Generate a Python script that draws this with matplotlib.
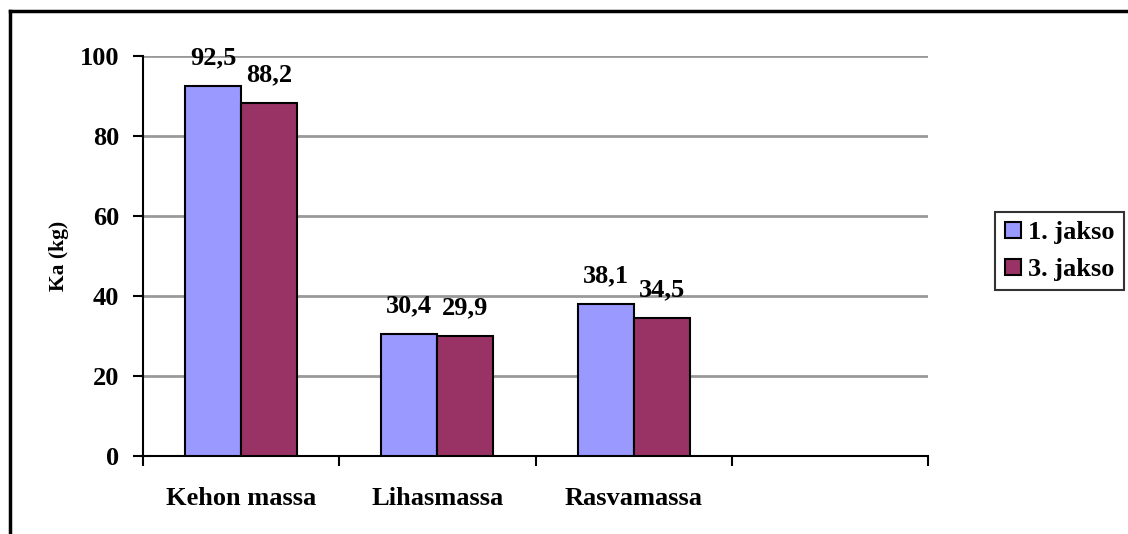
import numpy as np
import matplotlib.pyplot as plt
from matplotlib.lines import Line2D

# Dados
kategoriat = ['Kehon massa', 'Lihasmassa', 'Rasvamassa', '']
jakso1 = [92.5, 30.4, 38.1]
jakso3 = [88.2, 29.9, 34.5]
sarjat = ['1. jakso', '3. jakso']
y_ticks = [0, 20, 40, 60, 80, 100]

plt.rcParams['font.family'] = ['Liberation Serif', 'DejaVu Serif']
plt.rcParams['font.weight'] = 'bold'

fig = plt.figure(figsize=(11.28, 5.34), dpi=100)
ax = fig.add_axes([143/1128, 1-456/534, (928-143)/1128, 400/534])

x = np.arange(len(jakso1))
w = 0.285
c1 = '#9999FF'
c3 = '#993366'
b1 = ax.bar(x - w/2, jakso1, w, color=c1, edgecolor='black', linewidth=1.5, zorder=3)
b3 = ax.bar(x + w/2, jakso3, w, color=c3, edgecolor='black', linewidth=1.5, zorder=3)

# rótulos de valor acima das barras
for bars, vals in [(b1, jakso1), (b3, jakso3)]:
    for b, v in zip(bars, vals):
        ax.annotate(f'{v:.1f}'.replace('.', ','), (b.get_x() + b.get_width()/2, v),
                    xytext=(0, 12), textcoords='offset points', ha='center', va='bottom',
                    fontsize=19, fontweight='bold')

ax.set_xlim(-0.5, 3.5)
ax.set_ylim(0, 100)
ax.set_yticks(y_ticks)
ax.tick_params(axis='y', labelsize=19, length=7, width=1.5, direction='out', pad=10)
ax.yaxis.grid(True, color='#999999', linewidth=2, zorder=0)
ax.set_axisbelow(True)

# rajat kategorioiden välissä, nimet keskellä
ax.set_xticks(np.arange(-0.5, 4, 1))
ax.set_xticklabels([])
ax.set_xticks(np.arange(4), minor=True)
ax.set_xticklabels(kategoriat, minor=True, fontsize=19, fontweight='bold')
ax.tick_params(axis='x', which='major', length=7, width=1.5, direction='out')
ax.tick_params(axis='x', which='minor', length=0, pad=22)

for s in ['top', 'right']:
    ax.spines[s].set_visible(False)
for s in ['left', 'bottom']:
    ax.spines[s].set_linewidth(1.5)

ax.set_ylabel('Ka (kg)', fontsize=15.5, fontweight='bold', labelpad=8)

handles = [Line2D([], [], marker='s', linestyle='none', markersize=11, markerfacecolor=c,
                  markeredgecolor='black', markeredgewidth=1.5) for c in (c1, c3)]
leg = fig.legend(handles, sarjat, loc='center left', bbox_to_anchor=(995/1128, 1-251/534),
                 fontsize=19, frameon=True, fancybox=False, edgecolor='black',
                 handlelength=0.7, handletextpad=0.2, borderpad=0.35, labelspacing=0.5,
                 borderaxespad=0)
leg.get_frame().set_linewidth(1.5)

# kehys vasemmalla ja ylhäällä
fig.add_artist(Line2D([9.5/1128, 9.5/1128], [0, 1-11/534], color='black', linewidth=2.5))
fig.add_artist(Line2D([9.5/1128, 1], [1-11/534, 1-11/534], color='black', linewidth=2.5))

plt.savefig('out.png', dpi=100)
